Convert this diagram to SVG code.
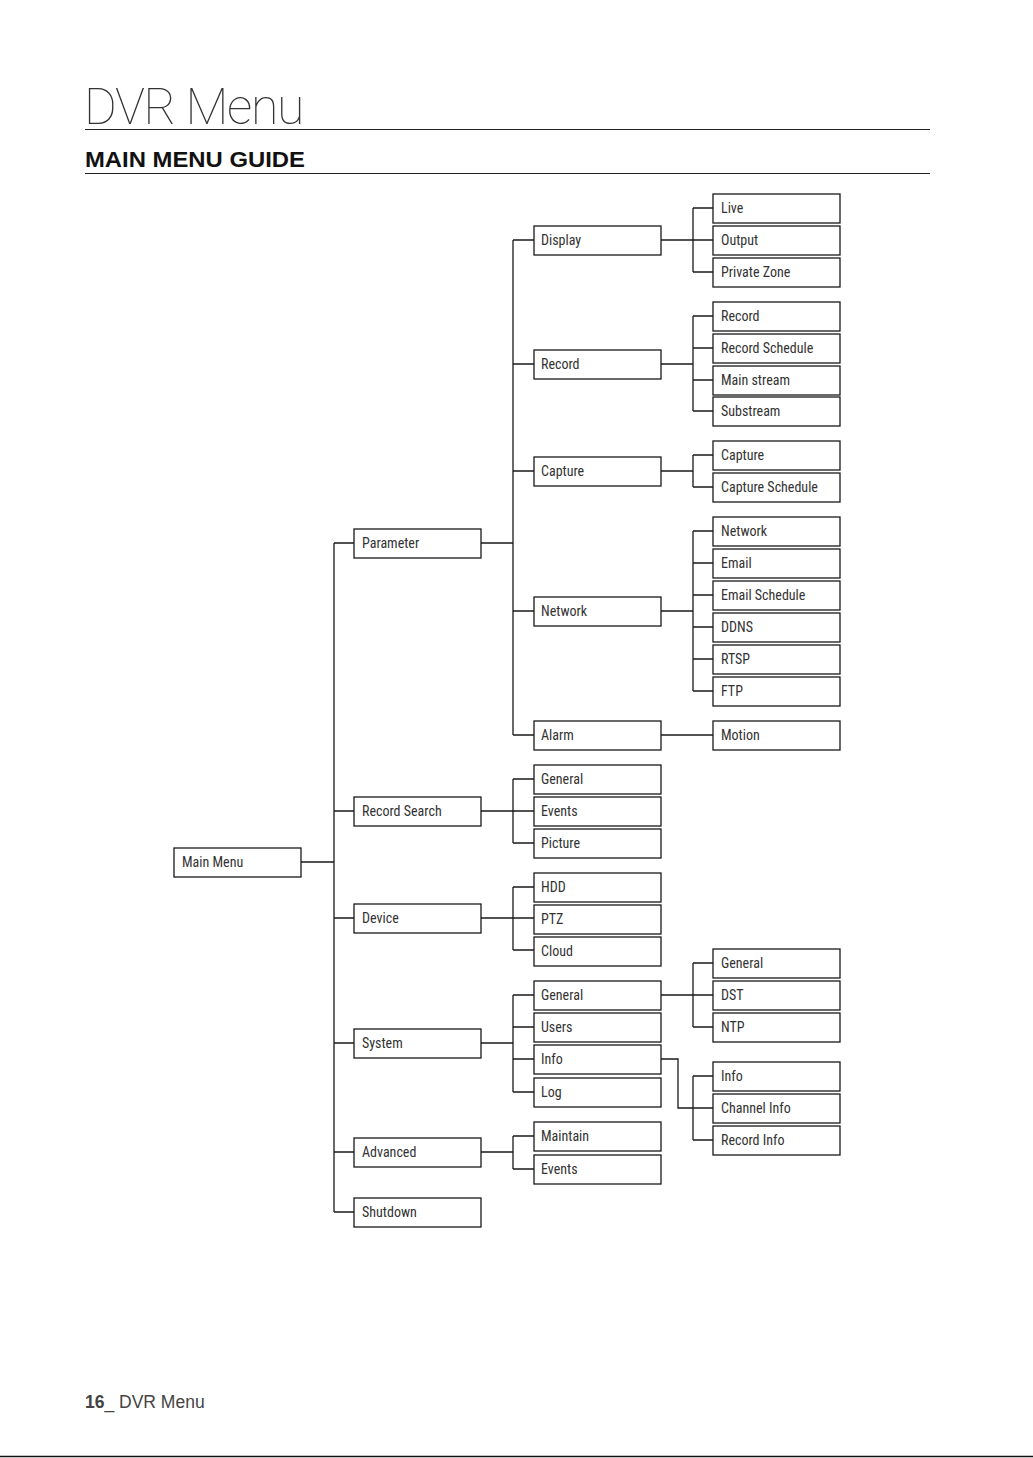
<svg xmlns="http://www.w3.org/2000/svg" width="1033" height="1458" viewBox="0 0 1033 1458">
<style>
.b rect{fill:#fff;stroke:#1a1a1a;stroke-width:1.3}
.b text{font-family:"Liberation Sans Narrow","Roboto Condensed","Liberation Sans",sans-serif;font-size:14px;fill:#333}
.c path{fill:none;stroke:#1a1a1a;stroke-width:1.3}
</style>
<rect width="1033" height="1458" fill="#fff"/>
<text x="84" y="124" font-family="Roboto,'Liberation Sans',sans-serif" font-weight="100" font-size="50" fill="#333" letter-spacing="-1.3">DVR Menu</text>
<line x1="85" y1="129.5" x2="930" y2="129.5" stroke="#222" stroke-width="1.2"/>
<text x="85" y="167" font-family="'Liberation Sans',Arial,sans-serif" font-weight="bold" font-size="22" fill="#111" textLength="220" lengthAdjust="spacingAndGlyphs">MAIN MENU GUIDE</text>
<line x1="85" y1="173.5" x2="930" y2="173.5" stroke="#222" stroke-width="1.2"/>
<text x="85" y="1408" font-family="'Liberation Sans',Arial,sans-serif" font-size="17.5" fill="#444"><tspan font-weight="bold">16</tspan>_ DVR Menu</text>
<line x1="0" y1="1456.5" x2="1033" y2="1456.5" stroke="#111" stroke-width="1.5"/>

<g class="c" id="connectors">
<path d="M301,862H334M334,543V1212M334,543H354M334,811H354M334,918H354M334,1043H354M334,1152H354M334,1212H354"/>
<path d="M481,543H513M513,240V735M513,240H534M513,364H534M513,471H534M513,611H534M513,735H534"/>
<path d="M481,811H513M513,779V843M513,779H534M513,811H534M513,843H534"/>
<path d="M481,918H513M513,887V950M513,887H534M513,918H534M513,950H534"/>
<path d="M481,1043H513M513,995V1092M513,995H534M513,1027H534M513,1059H534M513,1092H534"/>
<path d="M481,1152H513M513,1136V1169M513,1136H534M513,1169H534"/>
<path d="M661,240H693M693,208V272M693,208H713M693,240H713M693,272H713"/>
<path d="M661,364H693M693,316V411M693,316H713M693,348H713M693,380H713M693,411H713"/>
<path d="M661,471H693M693,455V487M693,455H713M693,487H713"/>
<path d="M661,611H693M693,531V691M693,531H713M693,563H713M693,595H713M693,627H713M693,659H713M693,691H713"/>
<path d="M661,735H713"/>
<path d="M661,995H693M693,963V1027M693,963H713M693,995H713M693,1027H713"/>
<path d="M661,1059H678V1108H693M693,1076V1140M693,1076H713M693,1108H713M693,1140H713"/>
</g>

<g class="b" id="n-main"><rect x="174" y="848" width="127" height="29"/><text x="182" y="867">Main Menu</text></g>

<g class="b" id="n-parameter"><rect x="354" y="529" width="127" height="29"/><text x="362" y="548">Parameter</text></g>
<g class="b" id="n-recsearch"><rect x="354" y="797" width="127" height="29"/><text x="362" y="816">Record Search</text></g>
<g class="b" id="n-device"><rect x="354" y="904" width="127" height="29"/><text x="362" y="923">Device</text></g>
<g class="b" id="n-system"><rect x="354" y="1029" width="127" height="29"/><text x="362" y="1048">System</text></g>
<g class="b" id="n-advanced"><rect x="354" y="1138" width="127" height="29"/><text x="362" y="1157">Advanced</text></g>
<g class="b" id="n-shutdown"><rect x="354" y="1198" width="127" height="29"/><text x="362" y="1217">Shutdown</text></g>

<g class="b" id="n-display"><rect x="534" y="226" width="127" height="29"/><text x="541" y="245">Display</text></g>
<g class="b" id="n-record"><rect x="534" y="350" width="127" height="29"/><text x="541" y="369">Record</text></g>
<g class="b" id="n-capture"><rect x="534" y="457" width="127" height="29"/><text x="541" y="476">Capture</text></g>
<g class="b" id="n-network"><rect x="534" y="597" width="127" height="29"/><text x="541" y="616">Network</text></g>
<g class="b" id="n-alarm"><rect x="534" y="721" width="127" height="29"/><text x="541" y="740">Alarm</text></g>

<g class="b" id="n-rs-general"><rect x="534" y="765" width="127" height="29"/><text x="541" y="784">General</text></g>
<g class="b" id="n-rs-events"><rect x="534" y="797" width="127" height="29"/><text x="541" y="816">Events</text></g>
<g class="b" id="n-rs-picture"><rect x="534" y="829" width="127" height="29"/><text x="541" y="848">Picture</text></g>

<g class="b" id="n-hdd"><rect x="534" y="873" width="127" height="29"/><text x="541" y="892">HDD</text></g>
<g class="b" id="n-ptz"><rect x="534" y="905" width="127" height="29"/><text x="541" y="924">PTZ</text></g>
<g class="b" id="n-cloud"><rect x="534" y="937" width="127" height="29"/><text x="541" y="956">Cloud</text></g>

<g class="b" id="n-sys-general"><rect x="534" y="981" width="127" height="29"/><text x="541" y="1000">General</text></g>
<g class="b" id="n-users"><rect x="534" y="1013" width="127" height="29"/><text x="541" y="1032">Users</text></g>
<g class="b" id="n-info"><rect x="534" y="1045" width="127" height="29"/><text x="541" y="1064">Info</text></g>
<g class="b" id="n-log"><rect x="534" y="1078" width="127" height="29"/><text x="541" y="1097">Log</text></g>

<g class="b" id="n-maintain"><rect x="534" y="1122" width="127" height="29"/><text x="541" y="1141">Maintain</text></g>
<g class="b" id="n-adv-events"><rect x="534" y="1155" width="127" height="29"/><text x="541" y="1174">Events</text></g>

<g class="b" id="n-live"><rect x="713" y="194" width="127" height="29"/><text x="721" y="213">Live</text></g>
<g class="b" id="n-output"><rect x="713" y="226" width="127" height="29"/><text x="721" y="245">Output</text></g>
<g class="b" id="n-private"><rect x="713" y="258" width="127" height="29"/><text x="721" y="277">Private Zone</text></g>

<g class="b" id="n-rec-record"><rect x="713" y="302" width="127" height="29"/><text x="721" y="321">Record</text></g>
<g class="b" id="n-rec-sched"><rect x="713" y="334" width="127" height="29"/><text x="721" y="353">Record Schedule</text></g>
<g class="b" id="n-mainstream"><rect x="713" y="366" width="127" height="29"/><text x="721" y="385">Main stream</text></g>
<g class="b" id="n-substream"><rect x="713" y="397" width="127" height="29"/><text x="721" y="416">Substream</text></g>

<g class="b" id="n-cap-capture"><rect x="713" y="441" width="127" height="29"/><text x="721" y="460">Capture</text></g>
<g class="b" id="n-cap-sched"><rect x="713" y="473" width="127" height="29"/><text x="721" y="492">Capture Schedule</text></g>

<g class="b" id="n-net-network"><rect x="713" y="517" width="127" height="29"/><text x="721" y="536">Network</text></g>
<g class="b" id="n-email"><rect x="713" y="549" width="127" height="29"/><text x="721" y="568">Email</text></g>
<g class="b" id="n-email-sched"><rect x="713" y="581" width="127" height="29"/><text x="721" y="600">Email Schedule</text></g>
<g class="b" id="n-ddns"><rect x="713" y="613" width="127" height="29"/><text x="721" y="632">DDNS</text></g>
<g class="b" id="n-rtsp"><rect x="713" y="645" width="127" height="29"/><text x="721" y="664">RTSP</text></g>
<g class="b" id="n-ftp"><rect x="713" y="677" width="127" height="29"/><text x="721" y="696">FTP</text></g>

<g class="b" id="n-motion"><rect x="713" y="721" width="127" height="29"/><text x="721" y="740">Motion</text></g>

<g class="b" id="n-gen-general"><rect x="713" y="949" width="127" height="29"/><text x="721" y="968">General</text></g>
<g class="b" id="n-dst"><rect x="713" y="981" width="127" height="29"/><text x="721" y="1000">DST</text></g>
<g class="b" id="n-ntp"><rect x="713" y="1013" width="127" height="29"/><text x="721" y="1032">NTP</text></g>

<g class="b" id="n-info-info"><rect x="713" y="1062" width="127" height="29"/><text x="721" y="1081">Info</text></g>
<g class="b" id="n-chinfo"><rect x="713" y="1094" width="127" height="29"/><text x="721" y="1113">Channel Info</text></g>
<g class="b" id="n-recinfo"><rect x="713" y="1126" width="127" height="29"/><text x="721" y="1145">Record Info</text></g>
</svg>
